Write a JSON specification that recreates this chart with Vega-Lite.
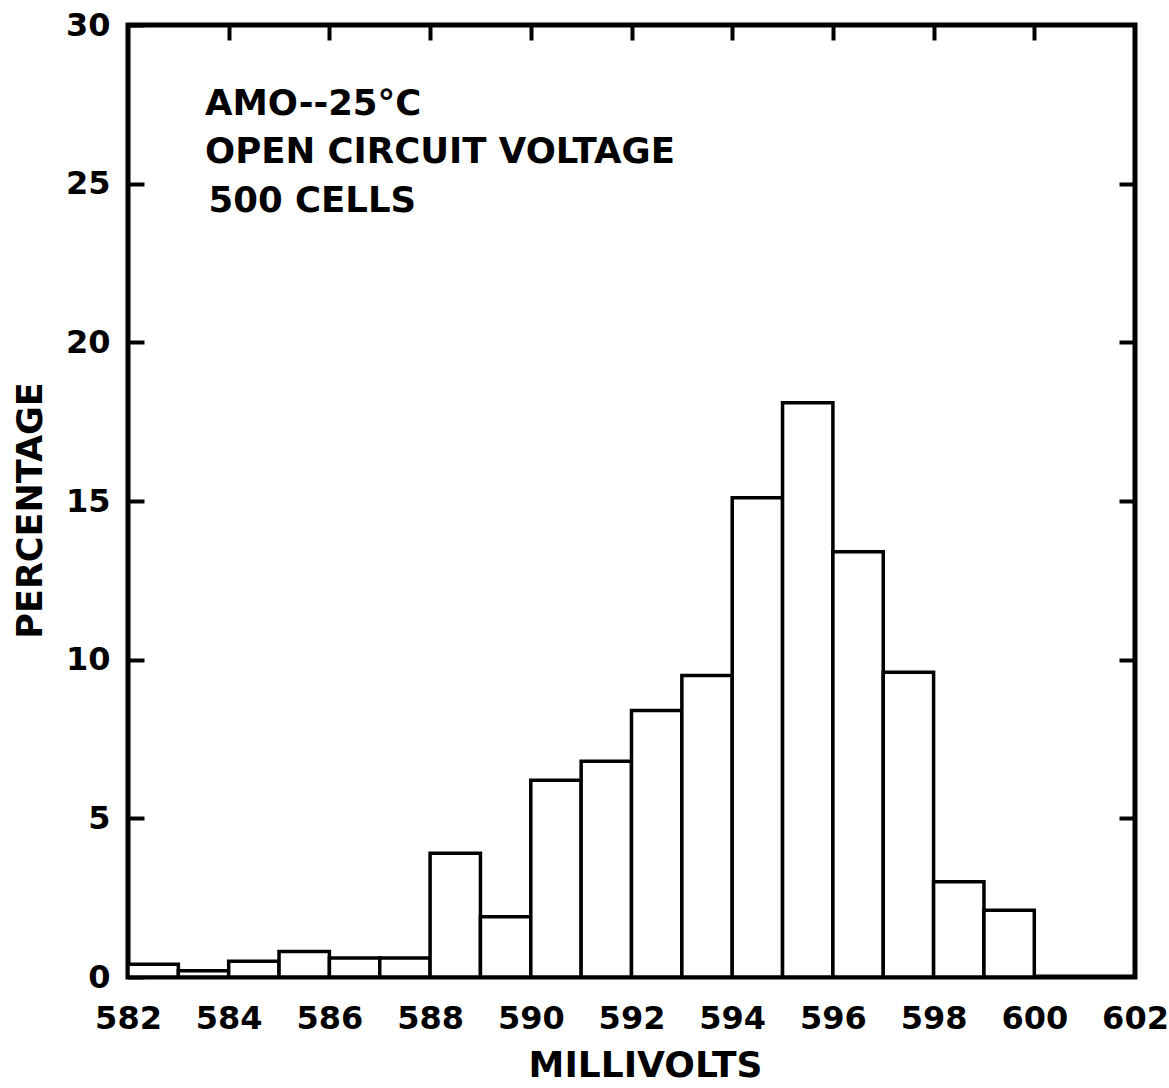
{
  "$schema": "https://vega.github.io/schema/vega-lite/v6.json",
  "width": 1007,
  "height": 952,
  "autosize": {"type": "none"},
  "padding": {"left": 128, "top": 25, "right": 34, "bottom": 111},
  "background": "white",
  "config": {
    "font": "DejaVu Sans",
    "view": {"stroke": "black", "strokeWidth": 5},
    "axis": {"labelFont": "DejaVu Sans", "labelFontWeight": "bold", "labelColor": "black", "titleFont": "DejaVu Sans", "titleFontWeight": "bold", "titleColor": "black", "grid": false, "domain": false, "tickColor": "black"}
  },
  "resolve": {"axis": {"x": "independent", "y": "independent"}},
  "layer": [
    {
      "data": {"values": [
        {"lo": 582, "hi": 583, "pct": 0.4},
        {"lo": 583, "hi": 584, "pct": 0.2},
        {"lo": 584, "hi": 585, "pct": 0.5},
        {"lo": 585, "hi": 586, "pct": 0.8},
        {"lo": 586, "hi": 587, "pct": 0.6},
        {"lo": 587, "hi": 588, "pct": 0.6},
        {"lo": 588, "hi": 589, "pct": 3.9},
        {"lo": 589, "hi": 590, "pct": 1.9},
        {"lo": 590, "hi": 591, "pct": 6.2},
        {"lo": 591, "hi": 592, "pct": 6.8},
        {"lo": 592, "hi": 593, "pct": 8.4},
        {"lo": 593, "hi": 594, "pct": 9.5},
        {"lo": 594, "hi": 595, "pct": 15.1},
        {"lo": 595, "hi": 596, "pct": 18.1},
        {"lo": 596, "hi": 597, "pct": 13.4},
        {"lo": 597, "hi": 598, "pct": 9.6},
        {"lo": 598, "hi": 599, "pct": 3.0},
        {"lo": 599, "hi": 600, "pct": 2.1}
      ]},
      "mark": {"type": "bar", "fill": "white", "stroke": "black", "strokeWidth": 3.5},
      "encoding": {
        "x": {"field": "lo", "type": "quantitative",
          "scale": {"domain": [582, 602], "nice": false, "zero": false},
          "axis": {"orient": "bottom", "values": [582, 584, 586, 588, 590, 592, 594, 596, 598, 600, 602], "ticks": false, "labelFontSize": 32, "labelBaseline": "alphabetic", "labelPadding": 51, "labelFlush": false, "title": "MILLIVOLTS", "titleFontSize": 36, "titleX": 517, "titleY": 99, "titleBaseline": "alphabetic", "titleAlign": "center"}},
        "x2": {"field": "hi"},
        "y": {"field": "pct", "type": "quantitative",
          "scale": {"domain": [0, 30], "nice": false},
          "axis": {"orient": "left", "values": [0, 5, 10, 15, 20, 25, 30], "tickSize": -16, "tickWidth": 4, "labelFontSize": 32, "labelPadding": 34, "labelBaseline": "middle", "labelFlush": false, "title": "PERCENTAGE", "titleFontSize": 35, "titleAngle": -90, "titleX": -98, "titleY": 485, "titleAlign": "center", "titleBaseline": "middle"}},
        "y2": {"datum": 0}
      }
    },
    {
      "data": {"values": [
        {"xp": 583.53, "yp": 27.17, "txt": "AMO--25°C"},
        {"xp": 583.53, "yp": 25.65, "txt": "OPEN CIRCUIT VOLTAGE"},
        {"xp": 583.6, "yp": 24.1, "txt": "500 CELLS"}
      ]},
      "mark": {"type": "text", "align": "left", "baseline": "alphabetic", "fontSize": 35.5, "fontWeight": "bold", "font": "DejaVu Sans", "color": "black"},
      "encoding": {
        "x": {"field": "xp", "type": "quantitative",
          "axis": {"orient": "top", "values": [584, 586, 588, 590, 592, 594, 596, 598, 600], "labels": false, "tickSize": -15, "tickWidth": 4, "title": null}},
        "y": {"field": "yp", "type": "quantitative",
          "axis": {"orient": "right", "values": [5, 10, 15, 20, 25], "labels": false, "tickSize": -16, "tickWidth": 4, "title": null}},
        "text": {"field": "txt"}
      }
    }
  ]
}
